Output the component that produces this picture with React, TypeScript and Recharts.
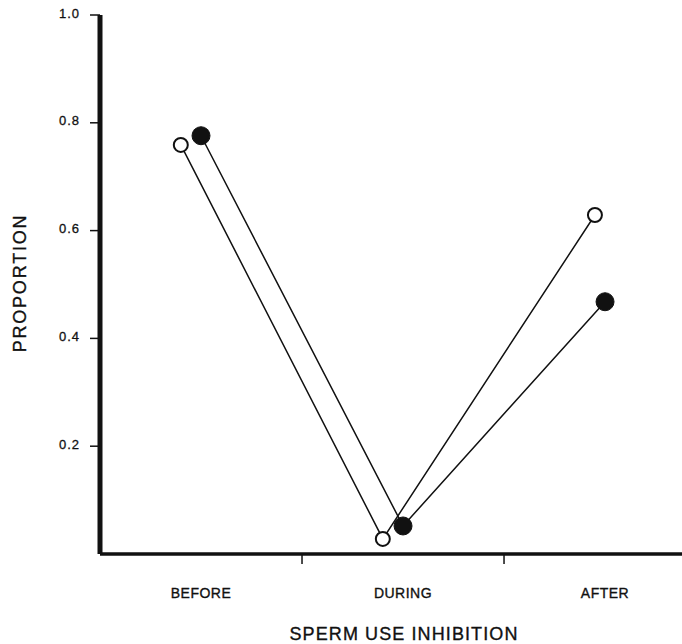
import React from "react";
import { LineChart, Line, XAxis, YAxis, Label } from "recharts";

const categories = ["BEFORE", "DURING", "AFTER"];
const categoryPos = [1, 2, 3];
const dividerPos = [1.5, 2.5];
const yTicks = [0.2, 0.4, 0.6, 0.8, 1.0];

// open circles (slightly left of each category)
const openX = [0.9, 1.9, 2.95];
const openValues = [0.759, 0.028, 0.629];
// filled circles
const filledX = [1.0, 2.0, 3.0];
const filledValues = [0.776, 0.052, 0.468];

const openData = openX.map((x, i) => ({ x, y: openValues[i] }));
const filledData = filledX.map((x, i) => ({ x, y: filledValues[i] }));

const FONT = "'Liberation Sans', Arial, Helvetica, sans-serif";

const XTick = (props: any) => {
  const { x, y, payload } = props;
  const v = payload.value;
  const idx = categoryPos.indexOf(v);
  if (idx >= 0) {
    return (
      <text
        x={x}
        y={y + 32}
        textAnchor="middle"
        fontFamily={FONT}
        fontSize={14}
        letterSpacing={0.5}
        fill="#111"
        stroke="#111"
        strokeWidth={0.35}
      >
        {categories[idx]}
      </text>
    );
  }
  if (dividerPos.indexOf(v) >= 0) {
    return <line x1={x} x2={x} y1={y - 12} y2={y - 2} stroke="#111" strokeWidth={1.5} />;
  }
  return null;
};

export default function App() {
  return (
    <div style={{ position: "absolute", left: 0, top: 0, background: "#fff" }}>
      <LineChart width={682} height={644} margin={{ top: 15, right: 0, bottom: 0, left: 0 }}>
        <XAxis
          type="number"
          dataKey="x"
          domain={[0.5, 3.381]}
          allowDataOverflow
          ticks={[1, 1.5, 2, 2.5, 3]}
          interval={0}
          height={90}
          tickSize={10}
          tickMargin={2}
          tickLine={false}
          axisLine={{ stroke: "#111", strokeWidth: 3.5 }}
          tick={<XTick />}
        >
          <Label
            content={() => (
              <text
                x={404}
                y={640}
                textAnchor="middle"
                fontFamily={FONT}
                fontSize={18}
                letterSpacing={1.1}
                fill="#111"
                stroke="#111"
                strokeWidth={0.35}
              >
                SPERM USE INHIBITION
              </text>
            )}
          />
        </XAxis>
        <YAxis
          type="number"
          domain={[0, 1]}
          ticks={yTicks}
          interval={0}
          width={100}
          tickSize={10}
          tickMargin={10}
          tickFormatter={(v: number) => v.toFixed(1)}
          axisLine={{ stroke: "#111", strokeWidth: 5 }}
          tickLine={{ stroke: "#111", strokeWidth: 1.5 }}
          tick={{ fontFamily: FONT, fontSize: 13, fill: "#111", stroke: "#111", strokeWidth: 0.3, letterSpacing: 1, dy: -2 }}
        >
          <Label
            content={() => (
              <text
                x={26}
                y={283}
                transform="rotate(-90 26 283)"
                textAnchor="middle"
                fontFamily={FONT}
                fontSize={18}
                letterSpacing={1.8}
                fill="#111"
                stroke="#111"
                strokeWidth={0.35}
              >
                PROPORTION
              </text>
            )}
          />
        </YAxis>
        <Line
          data={openData}
          dataKey="y"
          type="linear"
          stroke="#111"
          strokeWidth={1.5}
          dot={{ r: 7, fill: "#fff", stroke: "#111", strokeWidth: 2 }}
          activeDot={false}
          isAnimationActive={false}
        />
        <Line
          data={filledData}
          dataKey="y"
          type="linear"
          stroke="#111"
          strokeWidth={1.5}
          dot={{ r: 9, fill: "#111", stroke: "#111", strokeWidth: 1 }}
          activeDot={false}
          isAnimationActive={false}
        />
      </LineChart>
    </div>
  );
}
